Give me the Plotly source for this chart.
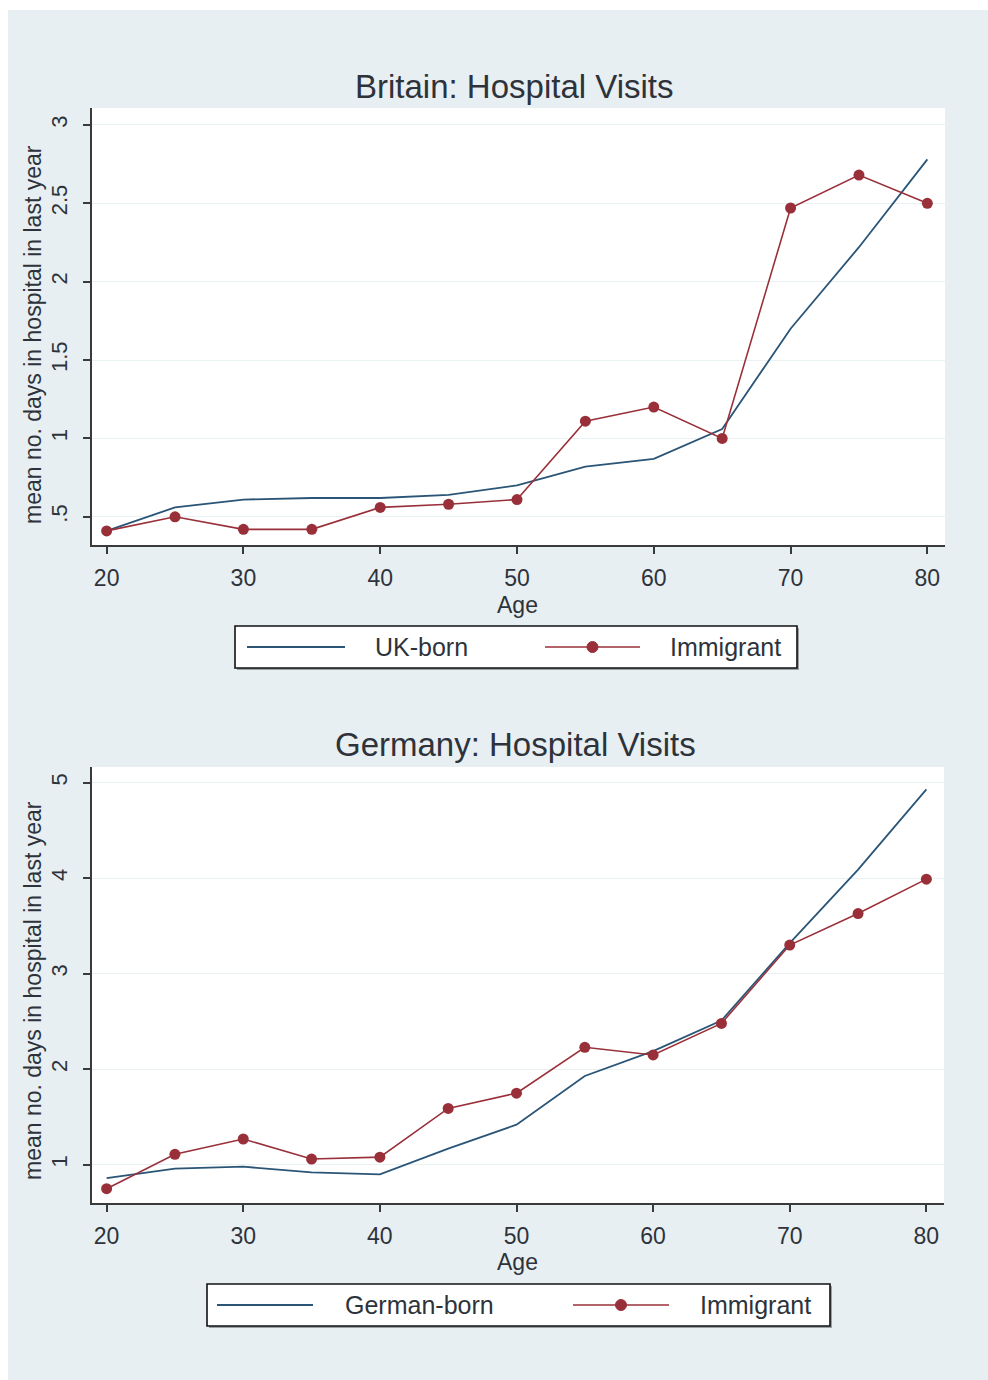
import plotly.graph_objects as go

# Age groups (5-year steps)
ages = [20, 25, 30, 35, 40, 45, 50, 55, 60, 65, 70, 75, 80]

# Britain: mean number of days in hospital in the last year
uk_born = [0.41, 0.56, 0.61, 0.62, 0.62, 0.64, 0.70, 0.82, 0.87, 1.06, 1.70, 2.22, 2.78]
uk_immigrant = [0.41, 0.50, 0.42, 0.42, 0.56, 0.58, 0.61, 1.11, 1.20, 1.00, 2.47, 2.68, 2.50]

# Germany: mean number of days in hospital in the last year
de_born = [0.86, 0.96, 0.98, 0.92, 0.90, 1.17, 1.42, 1.93, 2.19, 2.51, 3.32, 4.09, 4.93]
de_immigrant = [0.75, 1.11, 1.27, 1.06, 1.08, 1.59, 1.75, 2.23, 2.15, 2.48, 3.30, 3.63, 3.99]

x_ticks = [20, 30, 40, 50, 60, 70, 80]
uk_y_ticks = [0.5, 1, 1.5, 2, 2.5, 3]
uk_y_labels = [".5", "1", "1.5", "2", "2.5", "3"]
de_y_ticks = [1, 2, 3, 4, 5]
de_y_labels = ["1", "2", "3", "4", "5"]

titles = ["Britain: Hospital Visits", "Germany: Hospital Visits"]
native_names = ["UK-born", "German-born"]
immigrant_name = "Immigrant"
x_title = "Age"
y_title = "mean no. days in hospital in last year"

W, H = 988, 1380
NAVY = "#2a5577"
MAROON = "#993039"
BG = "#e8eff2"
GRID = "#eaf1f3"
AXIS = "#3a3a3a"
TEXT = "#2e333b"
FONT = "Liberation Sans, Arial, sans-serif"


def px(x):
    return x / W


def py(y):
    return 1 - y / H


fig = go.Figure()

panels = [
    dict(native=uk_born, imm=uk_immigrant, xa="x", ya="y"),
    dict(native=de_born, imm=de_immigrant, xa="x2", ya="y2"),
]
for i, p in enumerate(panels):
    fig.add_trace(go.Scatter(
        x=ages, y=p["native"], mode="lines", name=native_names[i],
        line=dict(color=NAVY, width=1.8), xaxis=p["xa"], yaxis=p["ya"],
        showlegend=False,
    ))
    fig.add_trace(go.Scatter(
        x=ages, y=p["imm"], mode="lines+markers", name=immigrant_name,
        line=dict(color=MAROON, width=1.6),
        marker=dict(color=MAROON, size=11, symbol="circle"),
        xaxis=p["xa"], yaxis=p["ya"], showlegend=False,
    ))

common_x = dict(
    range=[18.93, 81.29], tickvals=x_ticks, ticks="outside", ticklen=7,
    tickwidth=1.5, tickcolor=AXIS, showline=True, linecolor=AXIS, linewidth=1.6,
    showgrid=False, zeroline=False, automargin=False,
    tickfont=dict(family=FONT, size=23, color=TEXT), ticklabelstandoff=5,
)
common_y = dict(
    ticks="outside", ticklen=7, tickwidth=1.5, tickcolor=AXIS, showline=True,
    linecolor=AXIS, linewidth=1.6, showgrid=True, gridcolor=GRID, gridwidth=1.2,
    zeroline=False, automargin=False, tickangle=-90,
    tickfont=dict(family=FONT, size=22, color=TEXT), ticklabelstandoff=7,
)

fig.update_layout(
    width=W, height=H,
    margin=dict(l=0, r=0, t=0, b=0),
    paper_bgcolor=BG, plot_bgcolor="white",
    showlegend=False,
    xaxis=dict(domain=[px(92), px(945)], anchor="y", **common_x),
    yaxis=dict(domain=[py(545), py(108)], anchor="x", range=[0.32, 3.108],
               tickvals=uk_y_ticks, ticktext=uk_y_labels, **common_y),
    xaxis2=dict(domain=[px(92), px(944)], anchor="y2", **common_x),
    yaxis2=dict(domain=[py(1203), py(767)], anchor="x2", range=[0.60, 5.164],
                tickvals=de_y_ticks, ticktext=de_y_labels, **common_y),
)

shapes = [
    # white strips around the graph region
    dict(type="rect", xref="paper", yref="paper", x0=0, x1=px(8), y0=0, y1=1,
         fillcolor="white", line=dict(width=0), layer="below"),
    dict(type="rect", xref="paper", yref="paper", x0=0, x1=1, y0=py(10), y1=1,
         fillcolor="white", line=dict(width=0), layer="below"),
]
annotations = []

# per-panel text and legend geometry (pixel positions)
layout_px = [
    dict(title_y=87, title_x=514, ytitle_y=335, age_y=605, box=(235, 797, 626, 668),
         native_line=(247, 345), native_text=373, imm_line=(545, 640), imm_text=668),
    dict(title_y=744, title_x=515, ytitle_y=991, age_y=1262, box=(207, 830, 1284, 1326),
         native_line=(217, 313), native_text=343, imm_line=(573, 669), imm_text=698),
]

for i, g in enumerate(layout_px):
    annotations.append(dict(
        text=titles[i], xref="paper", yref="paper", x=px(g["title_x"]), y=py(g["title_y"]),
        xanchor="center", yanchor="middle", showarrow=False,
        font=dict(family=FONT, size=33, color=TEXT),
    ))
    annotations.append(dict(
        text=y_title, xref="paper", yref="paper", x=px(33), y=py(g["ytitle_y"]),
        xanchor="center", yanchor="middle", textangle=-90, showarrow=False,
        font=dict(family=FONT, size=23, color=TEXT),
    ))
    annotations.append(dict(
        text=x_title, xref="paper", yref="paper", x=px(517), y=py(g["age_y"]),
        xanchor="center", yanchor="middle", showarrow=False,
        font=dict(family=FONT, size=23, color=TEXT),
    ))

    x0, x1, y0, y1 = g["box"]
    ym = (y0 + y1) / 2
    shapes.append(dict(type="rect", xref="paper", yref="paper",
                       x0=px(x0 + 2), x1=px(x1 + 2), y0=py(y1 + 2), y1=py(y0 + 2),
                       fillcolor="#9aa0a4", line=dict(width=0)))
    shapes.append(dict(type="rect", xref="paper", yref="paper",
                       x0=px(x0), x1=px(x1), y0=py(y1), y1=py(y0),
                       fillcolor="white", line=dict(color="#111111", width=1.6)))
    nl0, nl1 = g["native_line"]
    shapes.append(dict(type="line", xref="paper", yref="paper",
                       x0=px(nl0), x1=px(nl1), y0=py(ym), y1=py(ym),
                       line=dict(color=NAVY, width=1.8)))
    il0, il1 = g["imm_line"]
    shapes.append(dict(type="line", xref="paper", yref="paper",
                       x0=px(il0), x1=px(il1), y0=py(ym), y1=py(ym),
                       line=dict(color=MAROON, width=1.6)))
    cx = (il0 + il1) / 2
    shapes.append(dict(type="circle", xref="paper", yref="paper",
                       x0=px(cx - 5.5), x1=px(cx + 5.5), y0=py(ym + 5.5), y1=py(ym - 5.5),
                       fillcolor=MAROON, line=dict(color=MAROON, width=1)))
    annotations.append(dict(
        text=native_names[i], xref="paper", yref="paper", x=px(g["native_text"]), y=py(ym),
        xanchor="left", yanchor="middle", showarrow=False,
        font=dict(family=FONT, size=25, color=TEXT),
    ))
    annotations.append(dict(
        text=immigrant_name, xref="paper", yref="paper", x=px(g["imm_text"]), y=py(ym),
        xanchor="left", yanchor="middle", showarrow=False,
        font=dict(family=FONT, size=25, color=TEXT),
    ))

fig.update_layout(shapes=shapes, annotations=annotations)

fig.write_html("out.html")
